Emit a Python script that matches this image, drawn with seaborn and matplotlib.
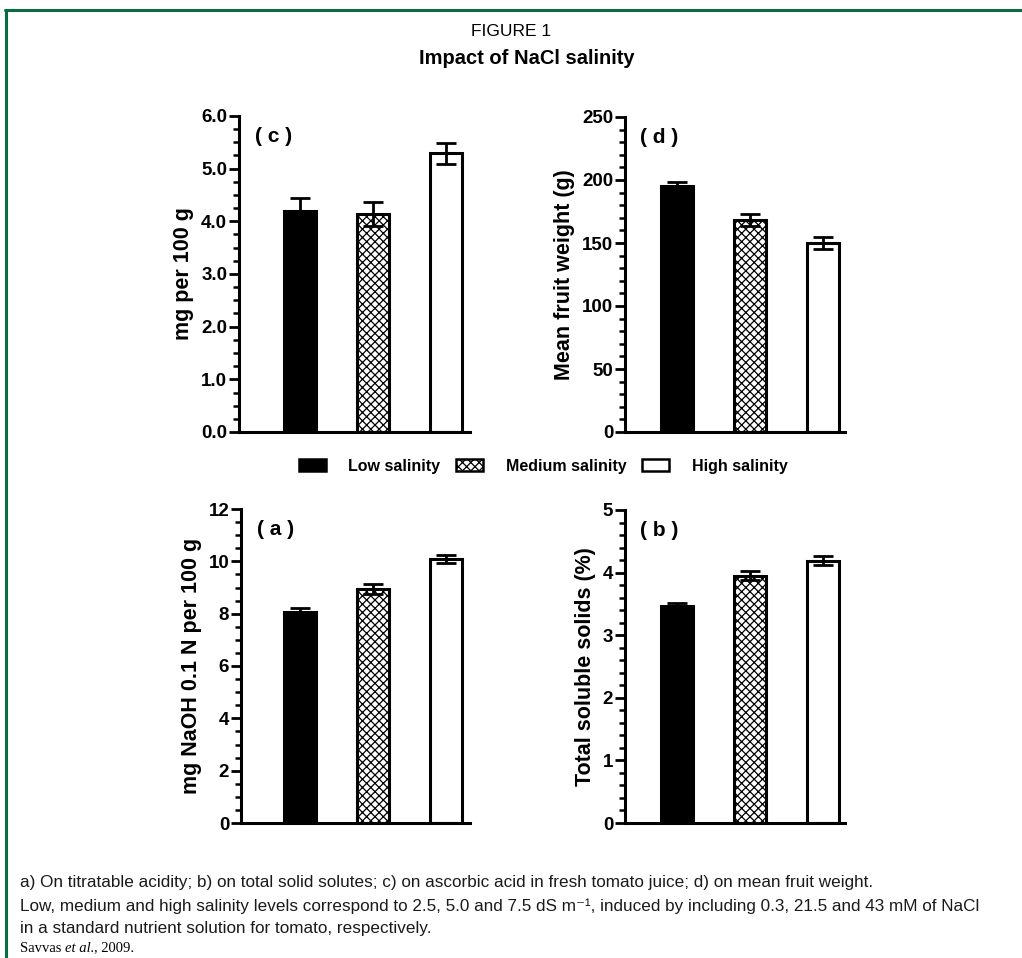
import numpy as np
import pandas as pd
import seaborn as sns
import matplotlib
matplotlib.use("Agg")
import matplotlib.pyplot as plt
from matplotlib.patches import Patch
from matplotlib.ticker import AutoMinorLocator
from matplotlib.lines import Line2D

# ---------------- data ----------------
categories = ["Low salinity", "Medium salinity", "High salinity"]

ascorbic_mean = [4.19, 4.14, 5.29]      # (c) mg per 100 g
ascorbic_err = [0.25, 0.23, 0.20]

fruit_weight_mean = [195.5, 168.3, 150.0]  # (d) g
fruit_weight_err = [2.8, 4.5, 4.8]

acidity_mean = [8.05, 8.94, 10.10]      # (a) mg NaOH 0.1 N per 100 g
acidity_err = [0.17, 0.20, 0.16]

tss_mean = [3.47, 3.95, 4.19]           # (b) %
tss_err = [0.04, 0.07, 0.07]

panel_labels = ["( c )", "( d )", "( a )", "( b )"]
y_labels = ["mg per 100 g", "Mean fruit weight (g)",
            "mg NaOH 0.1 N per 100 g", "Total soluble solids (%)"]
y_ticks_c = [0.0, 1.0, 2.0, 3.0, 4.0, 5.0, 6.0]
y_ticks_d = [0, 50, 100, 150, 200, 250]
y_ticks_a = [0, 2, 4, 6, 8, 10, 12]
y_ticks_b = [0, 1, 2, 3, 4, 5]

caption_lines = [
    "a) On titratable acidity; b) on total solid solutes; c) on ascorbic acid in fresh tomato juice; d) on mean fruit weight.",
    "Low, medium and high salinity levels correspond to 2.5, 5.0 and 7.5 dS m\u207b\u00b9, induced by including 0.3, 21.5 and 43 mM of NaCl",
    "in a standard nutrient solution for tomato, respectively.",
]

# ---------------- style ----------------
sns.set_theme(style="ticks")
plt.rcParams["font.family"] = ["Liberation Sans", "DejaVu Sans"]
plt.rcParams["hatch.linewidth"] = 0.9
for k in ["text.color", "axes.labelcolor", "xtick.color", "ytick.color", "axes.edgecolor"]:
    plt.rcParams[k] = "black"

W, H = 1022, 958
fig = plt.figure(figsize=(W / 100, H / 100), dpi=100)
r = fig.canvas.get_renderer()

faces = ["black", "white", "white"]
hatches = ["", "xxxx", ""]

green = "#0a6b45"
fig.add_artist(Line2D([5 / W, 1.0], [1 - 9.5 / H, 1 - 9.5 / H], color=green, lw=2.2,
                      transform=fig.transFigure))
fig.add_artist(Line2D([5.5 / W, 5.5 / W], [0.0, 1 - 9.5 / H], color=green, lw=2.2,
                      transform=fig.transFigure))

fig.text(511 / W, 1 - 31 / H, "FIGURE 1", ha="center", va="center", fontsize=12.5)
fig.text(527 / W, 1 - 58 / H, "Impact of NaCl salinity", ha="center", va="center",
         fontsize=14.5, fontweight="bold")


def px_axes(x0, x1, y0, y1):
    return fig.add_axes([x0 / W, 1 - y1 / H, (x1 - x0) / W, (y1 - y0) / H])


panels = [
    (px_axes(239, 470, 116, 432), ascorbic_mean, ascorbic_err, y_ticks_c, "{:.1f}", 4, (-0.836, 2.33)),
    (px_axes(625, 845, 117, 432), fruit_weight_mean, fruit_weight_err, y_ticks_d, "{:.0f}", 5, (-0.71, 2.30)),
    (px_axes(241, 470, 509, 823), acidity_mean, acidity_err, y_ticks_a, "{:.0f}", 4, (-0.81, 2.33)),
    (px_axes(625, 845, 510, 823), tss_mean, tss_err, y_ticks_b, "{:.0f}", 5, (-0.71, 2.30)),
]

for (ax, means, errs, yt, fmt, nminor, xl), plab, ylab in zip(panels, panel_labels, y_labels):
    df = pd.DataFrame({"cat": categories, "val": means})
    sns.barplot(data=df, x="cat", y="val", order=categories, ax=ax, width=0.44,
                color="white", edgecolor="black", linewidth=2.2, errorbar=None)
    for p, fc, h in zip(ax.patches, faces, hatches):
        p.set_facecolor(fc)
        p.set_hatch(h)
        p.set_edgecolor("black")
    ax.errorbar(np.arange(len(categories)), means, yerr=errs, fmt="none",
                ecolor="black", elinewidth=2.0, capsize=7, capthick=2.0, zorder=5)
    ax.set_ylim(yt[0], yt[-1])
    ax.set_xlim(*xl)
    ax.set_yticks(yt)
    ax.set_yticklabels([fmt.format(v) for v in yt], fontweight="bold", fontsize=13.5)
    ax.yaxis.set_minor_locator(AutoMinorLocator(nminor))
    ax.tick_params(axis="y", which="major", length=7, width=2.0, pad=1.5)
    ax.tick_params(axis="y", which="minor", length=4, width=1.8)
    ax.tick_params(axis="x", length=0, labelbottom=False)
    ax.set_xlabel("")
    ax.set_ylabel(ylab, fontweight="bold", fontsize=15.5, labelpad=5)
    for s in ["left", "bottom"]:
        ax.spines[s].set_linewidth(2.2)
    sns.despine(ax=ax)
    ax.set_facecolor("none")
    ax.text(0.07, 0.965, plab, transform=ax.transAxes, ha="left", va="top",
            fontsize=15, fontweight="bold")

# legend
handles = [Patch(facecolor=fc, edgecolor="black", hatch=h, linewidth=1.8)
           for fc, h in zip(faces, hatches)]
fig.legend(handles, categories, loc="center", bbox_to_anchor=(543 / W, 1 - 466 / H),
           ncol=3, frameon=False, prop={"weight": "bold", "size": 11.5},
           handlelength=1.7, handleheight=0.8, columnspacing=1.0, handletextpad=1.4)

# caption: fit second line to reference width
probe = fig.text(0, 0, caption_lines[1], fontsize=11)
wpx = probe.get_window_extent(r).width
probe.remove()
cap_size = 11 * 958 / wpx
for i, line in enumerate(caption_lines):
    fig.text(20 / W, 1 - (883 + 23 * i) / H, line, ha="left", va="center",
             fontsize=cap_size, color="#1a1a1a")

serif = ["Liberation Serif", "DejaVu Serif"]
t1 = fig.text(20 / W, 1 - 948 / H, "Savvas ", ha="left", va="center",
              fontsize=10.5, family=serif)
bb = t1.get_window_extent(r)
t2 = fig.text(bb.x1 / W, 1 - 948 / H, "et al.", ha="left", va="center",
              fontsize=10.5, style="italic", family=serif)
bb2 = t2.get_window_extent(r)
fig.text(bb2.x1 / W, 1 - 948 / H, ", 2009.", ha="left", va="center",
         fontsize=10.5, family=serif)

fig.savefig("out.png", dpi=100)
